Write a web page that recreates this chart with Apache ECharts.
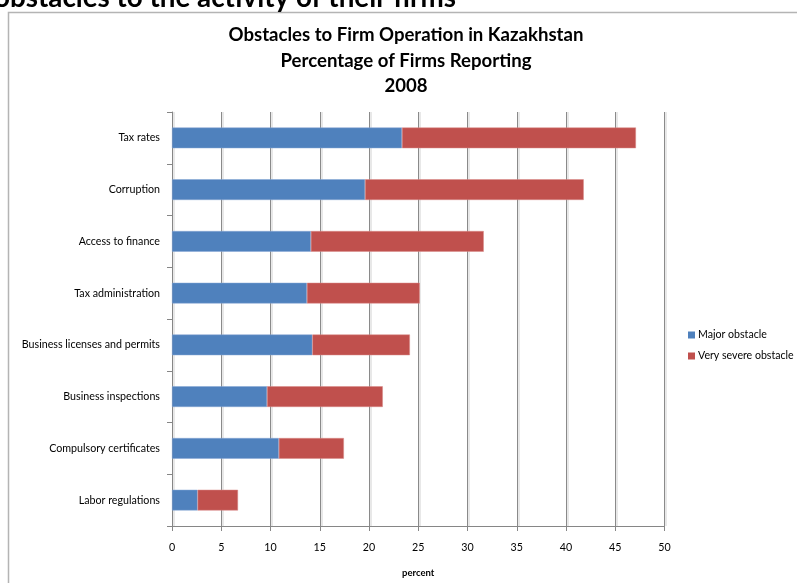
<!DOCTYPE html>
<html>
<head>
<meta charset="utf-8">
<script src="https://cdn.jsdelivr.net/npm/echarts@6/dist/echarts.min.js"></script>
<style>
  html, body { margin: 0; padding: 0; background: #fff; }
  #chart { width: 797px; height: 583px; }
</style>
</head>
<body>
<div id="chart"></div>
<script>
// Obstacles, listed top to bottom
const categories = [
  'Tax rates',
  'Corruption',
  'Access to finance',
  'Tax administration',
  'Business licenses and permits',
  'Business inspections',
  'Compulsory certificates',
  'Labor regulations'
];
// Share of firms (%) rating each obstacle as major / very severe
const majorObstacle = [23.35, 19.6, 14.1, 13.7, 14.25, 9.65, 10.85, 2.6];
const verySevereObstacle = [23.75, 22.2, 17.55, 11.45, 9.9, 11.75, 6.6, 4.1];
const xTicks = { min: 0, max: 50, step: 5 };

const titleLines = [
  'Obstacles to Firm Operation in Kazakhstan',
  'Percentage of Firms Reporting',
  '2008'
];

const FONT = 'Lato, "Liberation Sans", sans-serif';
const chart = echarts.init(document.getElementById('chart'), null, { renderer: 'canvas' });

chart.setOption({
  backgroundColor: '#ffffff',
  animation: false,
  textStyle: { fontFamily: FONT },
  graphic: [
    // heading of the surrounding page, clipped by the top edge
    {
      type: 'text', x: -6, y: -2, z: 10,
      style: { text: 'obstacles to the activity of their firms', font: 'bold 27.8px ' + FONT, fill: '#000', align: 'left', verticalAlign: 'middle' }
    },
    // chart frame
    {
      type: 'rect', shape: { x: 8.5, y: 12.5, width: 800, height: 600 },
      style: { fill: 'none', stroke: '#b4b4b4', lineWidth: 1.5 }, z: -1
    },
    ...titleLines.map((t, i) => ({
      type: 'text', x: 406, y: 35 + i * 25.5,
      style: { text: t, font: 'bold 18.6px ' + FONT, fill: '#000', align: 'center', verticalAlign: 'middle' }
    }))
  ],
  legend: {
    orient: 'vertical',
    left: 688, top: 329.5,
    padding: 0,
    itemWidth: 7, itemHeight: 7, itemGap: 10,
    icon: 'rect',
    itemStyle: { borderWidth: 0 },
    textStyle: { fontSize: 10.6, color: '#000', fontFamily: FONT, padding: [0, 0, 0, -2] },
    data: ['Major obstacle', 'Very severe obstacle']
  },
  grid: { left: 172, right: 132.5, top: 112, bottom: 54, containLabel: false },
  xAxis: {
    type: 'value',
    min: xTicks.min, max: xTicks.max, interval: xTicks.step,
    name: 'percent', nameLocation: 'middle', nameGap: 42,
    nameTextStyle: { fontSize: 9.5, fontWeight: 'bold', color: '#000', fontFamily: FONT },
    axisLine: { show: true, lineStyle: { color: '#868686', width: 1 } },
    axisTick: { show: true, length: 5, lineStyle: { color: '#868686' } },
    axisLabel: { fontSize: 10.7, color: '#000', margin: 16, fontFamily: FONT },
    splitLine: {
      show: true,
      lineStyle: { color: '#8a8a8a', width: 1, shadowColor: 'rgba(0,0,0,0.18)', shadowOffsetX: 1.5, shadowBlur: 0 }
    }
  },
  yAxis: {
    type: 'category',
    inverse: true,
    data: categories,
    axisLine: { show: true, lineStyle: { color: '#868686', width: 1 } },
    axisTick: { show: true, length: 5, alignWithLabel: false, lineStyle: { color: '#868686' } },
    axisLabel: { fontSize: 10.7, color: '#000', margin: 12, fontFamily: FONT }
  },
  series: [
    {
      name: 'Major obstacle', type: 'bar', stack: 'total',
      data: majorObstacle,
      barCategoryGap: '60%',
      itemStyle: { color: '#4F81BD', borderColor: '#86a6d4', borderWidth: 0.5 }
    },
    {
      name: 'Very severe obstacle', type: 'bar', stack: 'total',
      data: verySevereObstacle,
      barCategoryGap: '60%',
      itemStyle: { color: '#C0504D', borderColor: '#d98a88', borderWidth: 0.5 }
    }
  ]
});
</script>
</body>
</html>
